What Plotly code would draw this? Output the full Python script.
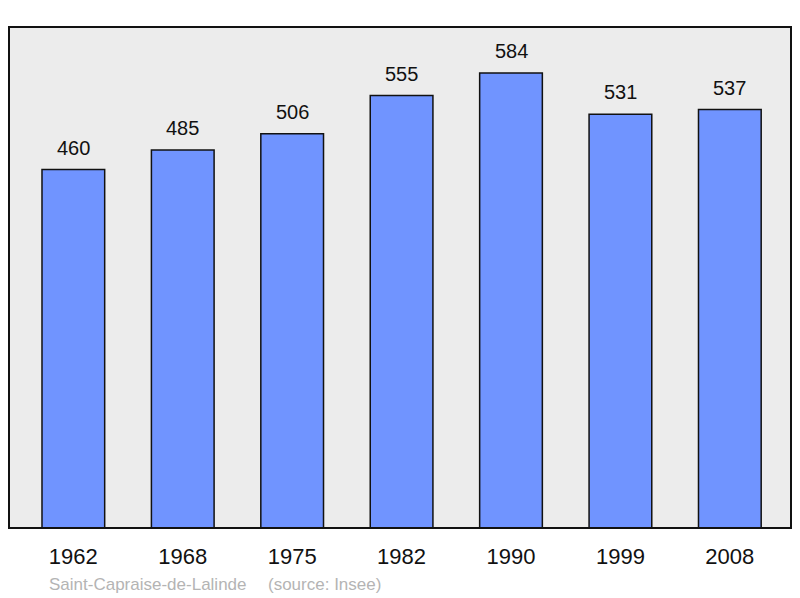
import plotly.graph_objects as go

years = ["1962", "1968", "1975", "1982", "1990", "1999", "2008"]
population = [460, 485, 506, 555, 584, 531, 537]
commune = "Saint-Capraise-de-Lalinde"
source = "(source: Insee)"

FONT = "Liberation Sans, Arial, sans-serif"

fig = go.Figure()
fig.add_trace(go.Bar(
    x=years, y=population, width=0.573,
    marker=dict(color="#7094ff", line=dict(color="#111111", width=1.5)),
    hoverinfo="skip",
))

for i, v in enumerate(population):
    fig.add_annotation(x=i, y=v, text=str(v), showarrow=False,
                       yanchor="bottom", yshift=9,
                       font=dict(size=20, color="#111111", family=FONT))

fig.add_annotation(xref="paper", yref="paper", x=(47 - 9) / 782, y=-(584 - 528) / 501,
                   xanchor="left", yanchor="middle", text=commune, showarrow=False,
                   font=dict(size=17, color="#b4b4b4", family=FONT))
fig.add_annotation(xref="paper", yref="paper", x=(266 - 9) / 782, y=-(584 - 528) / 501,
                   xanchor="left", yanchor="middle", text=source, showarrow=False,
                   font=dict(size=17, color="#b4b4b4", family=FONT))

fig.add_shape(type="rect", xref="paper", yref="paper", x0=0, y0=0, x1=1, y1=1,
              line=dict(color="#111111", width=2), layer="above")

fig.update_layout(
    width=800, height=598,
    margin=dict(l=9, r=9, t=27, b=70),
    paper_bgcolor="white", plot_bgcolor="#ececec",
    showlegend=False,
    font=dict(family=FONT),
    xaxis=dict(type="category", range=[-0.588, 6.559], showgrid=False, zeroline=False,
               ticks="outside", ticklen=9, tickcolor="rgba(0,0,0,0)",
               tickfont=dict(size=22, color="#111111"), fixedrange=True),
    yaxis=dict(range=[0, 643], showgrid=False, zeroline=False, showticklabels=False,
               fixedrange=True),
)

fig.write_html("out.html", config={"displayModeBar": False},
               post_script="document.body.style.margin='0';")
